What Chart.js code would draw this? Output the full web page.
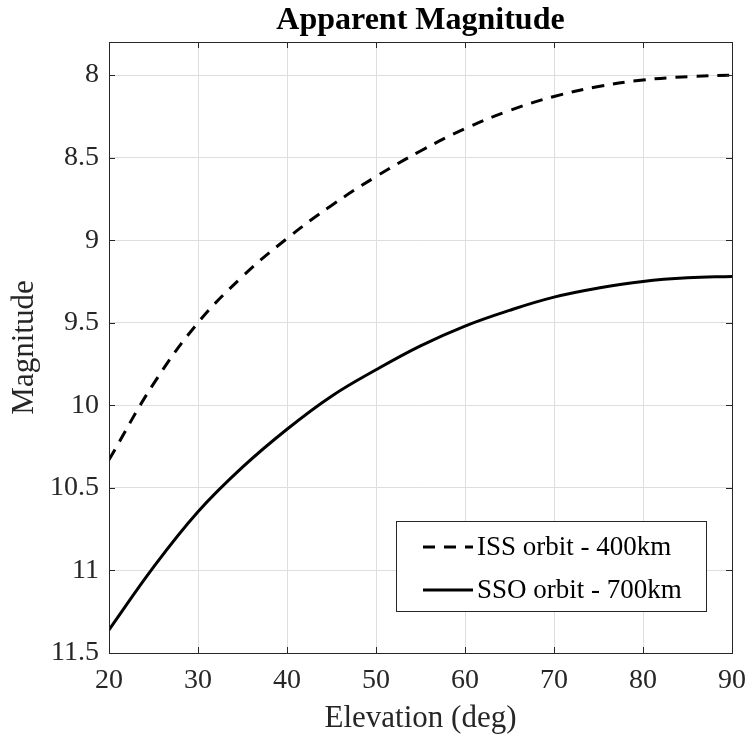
<!DOCTYPE html>
<html>
<head>
<meta charset="utf-8">
<script src="https://cdn.jsdelivr.net/npm/chart.js@4.4.1/dist/chart.umd.min.js"></script>
<style>
  html, body { margin: 0; padding: 0; background: #fff; }
  #wrap { width: 752px; height: 738px; }
</style>
</head>
<body>
<div id="wrap"><canvas id="chart"></canvas></div>
<script>
// elevation angle (deg)
const elevation = [20, 25, 30, 35, 40, 45, 50, 55, 60, 65, 70, 75, 80, 85, 90];
// apparent magnitude per orbit
const issMag = [10.33, 9.87, 9.50, 9.22, 8.99, 8.79, 8.615, 8.46, 8.325, 8.215, 8.13, 8.07, 8.03, 8.01, 8.00];
const ssoMag = [11.36, 10.98, 10.645, 10.375, 10.145, 9.945, 9.785, 9.64, 9.52, 9.425, 9.345, 9.29, 9.25, 9.228, 9.22];
const seriesNames = ["ISS orbit - 400km", "SSO orbit - 700km"];
const xTicks = [20, 30, 40, 50, 60, 70, 80, 90];
const yTicks = [8, 8.5, 9, 9.5, 10, 10.5, 11, 11.5];

const serif = "'Liberation Serif', 'Times New Roman', serif";
const axisColor = "#262626";

// axes box + inward ticks on all four sides (matlab look)
const boxTicks = {
    id: "boxTicks",
    afterDatasetsDraw(chart) {
        const { ctx, chartArea: a, scales: { x, y } } = chart;
        const len = 6;
        ctx.save();
        ctx.strokeStyle = axisColor;
        ctx.lineWidth = 1;
        ctx.beginPath();
        xTicks.forEach(v => {
            const px = Math.round(x.getPixelForValue(v)) + 0.5;
            ctx.moveTo(px, a.bottom); ctx.lineTo(px, a.bottom - len);
            ctx.moveTo(px, a.top); ctx.lineTo(px, a.top + len);
        });
        yTicks.forEach(v => {
            const py = Math.round(y.getPixelForValue(v)) + 0.5;
            ctx.moveTo(a.left, py); ctx.lineTo(a.left + len, py);
            ctx.moveTo(a.right, py); ctx.lineTo(a.right - len, py);
        });
        ctx.stroke();
        ctx.strokeRect(Math.round(a.left) + 0.5, Math.round(a.top) + 0.5,
            Math.round(a.right - a.left), Math.round(a.bottom - a.top));
        ctx.restore();
    }
};

// legend box in lower right corner of the plot
const insideLegend = {
    id: "insideLegend",
    afterDraw(chart) {
        const { ctx, chartArea: a } = chart;
        const w = 310, h = 90;
        const bx = a.right - 26 - w, by = a.bottom - 42 - h;
        ctx.save();
        ctx.fillStyle = "#fff";
        ctx.fillRect(bx, by, w, h);
        ctx.strokeStyle = axisColor;
        ctx.lineWidth = 1;
        ctx.strokeRect(Math.round(bx) + 0.5, Math.round(by) + 0.5, w, h);
        ctx.font = "27px " + serif;
        ctx.textBaseline = "middle";
        ctx.fillStyle = "#000";
        chart.data.datasets.forEach((ds, i) => {
            const cy = by + 26 + i * 43;
            ctx.beginPath();
            ctx.setLineDash(ds.borderDash || []);
            ctx.lineWidth = ds.borderWidth;
            ctx.strokeStyle = ds.borderColor;
            ctx.moveTo(bx + 27, cy);
            ctx.lineTo(bx + 77, cy);
            ctx.stroke();
            ctx.setLineDash([]);
            ctx.fillText(ds.label, bx + 81, cy + 1);
        });
        ctx.restore();
    }
};

const toPoints = vals => elevation.map((e, i) => ({ x: e, y: vals[i] }));

new Chart(document.getElementById("chart"), {
    type: "line",
    data: {
        datasets: [
            {
                label: seriesNames[0],
                data: toPoints(issMag),
                borderColor: "#000",
                borderWidth: 3,
                borderDash: [12, 9],
                pointRadius: 0,
                tension: 0.4,
                fill: false
            },
            {
                label: seriesNames[1],
                data: toPoints(ssoMag),
                borderColor: "#000",
                borderWidth: 3,
                pointRadius: 0,
                tension: 0.4,
                fill: false
            }
        ]
    },
    options: {
        responsive: true,
        maintainAspectRatio: false,
        animation: false,
        layout: { padding: { left: 0, right: 20, top: 0, bottom: 0 } },
        plugins: {
            legend: { display: false },
            tooltip: { enabled: false },
            title: {
                display: true,
                fullSize: false,
                text: "Apparent Magnitude",
                color: "#000",
                font: { family: serif, size: 32, weight: "bold", lineHeight: 1.2 },
                padding: { top: 2, bottom: 1.6 }
            }
        },
        scales: {
            x: {
                type: "linear",
                min: 20,
                max: 90,
                afterBuildTicks: s => { s.ticks = xTicks.map(v => ({ value: v })); },
                afterFit: s => { s.height = 85; s.paddingLeft = 0; s.paddingRight = 0; },
                grid: { color: "#dedede", drawTicks: false },
                border: { display: false },
                ticks: {
                    color: axisColor,
                    padding: 11,
                    maxRotation: 0,
                    font: { family: serif, size: 28 },
                    callback: v => String(v)
                },
                title: {
                    display: true,
                    text: "Elevation (deg)",
                    color: axisColor,
                    font: { family: serif, size: 31 },
                    padding: { top: 0, bottom: 1 }
                }
            },
            y: {
                type: "linear",
                reverse: true,
                min: 7.8,
                max: 11.5,
                afterBuildTicks: s => { s.ticks = yTicks.map(v => ({ value: v })); },
                afterFit: s => { s.width = 109; },
                grid: { color: "#dedede", drawTicks: false },
                border: { display: false },
                ticks: {
                    color: axisColor,
                    padding: 10,
                    font: { family: serif, size: 28 },
                    callback: v => String(v)
                },
                title: {
                    display: true,
                    text: "Magnitude",
                    color: axisColor,
                    font: { family: serif, size: 31 },
                    padding: { top: 6, bottom: 0 }
                }
            }
        }
    },
    plugins: [boxTicks, insideLegend]
});
</script>
</body>
</html>
